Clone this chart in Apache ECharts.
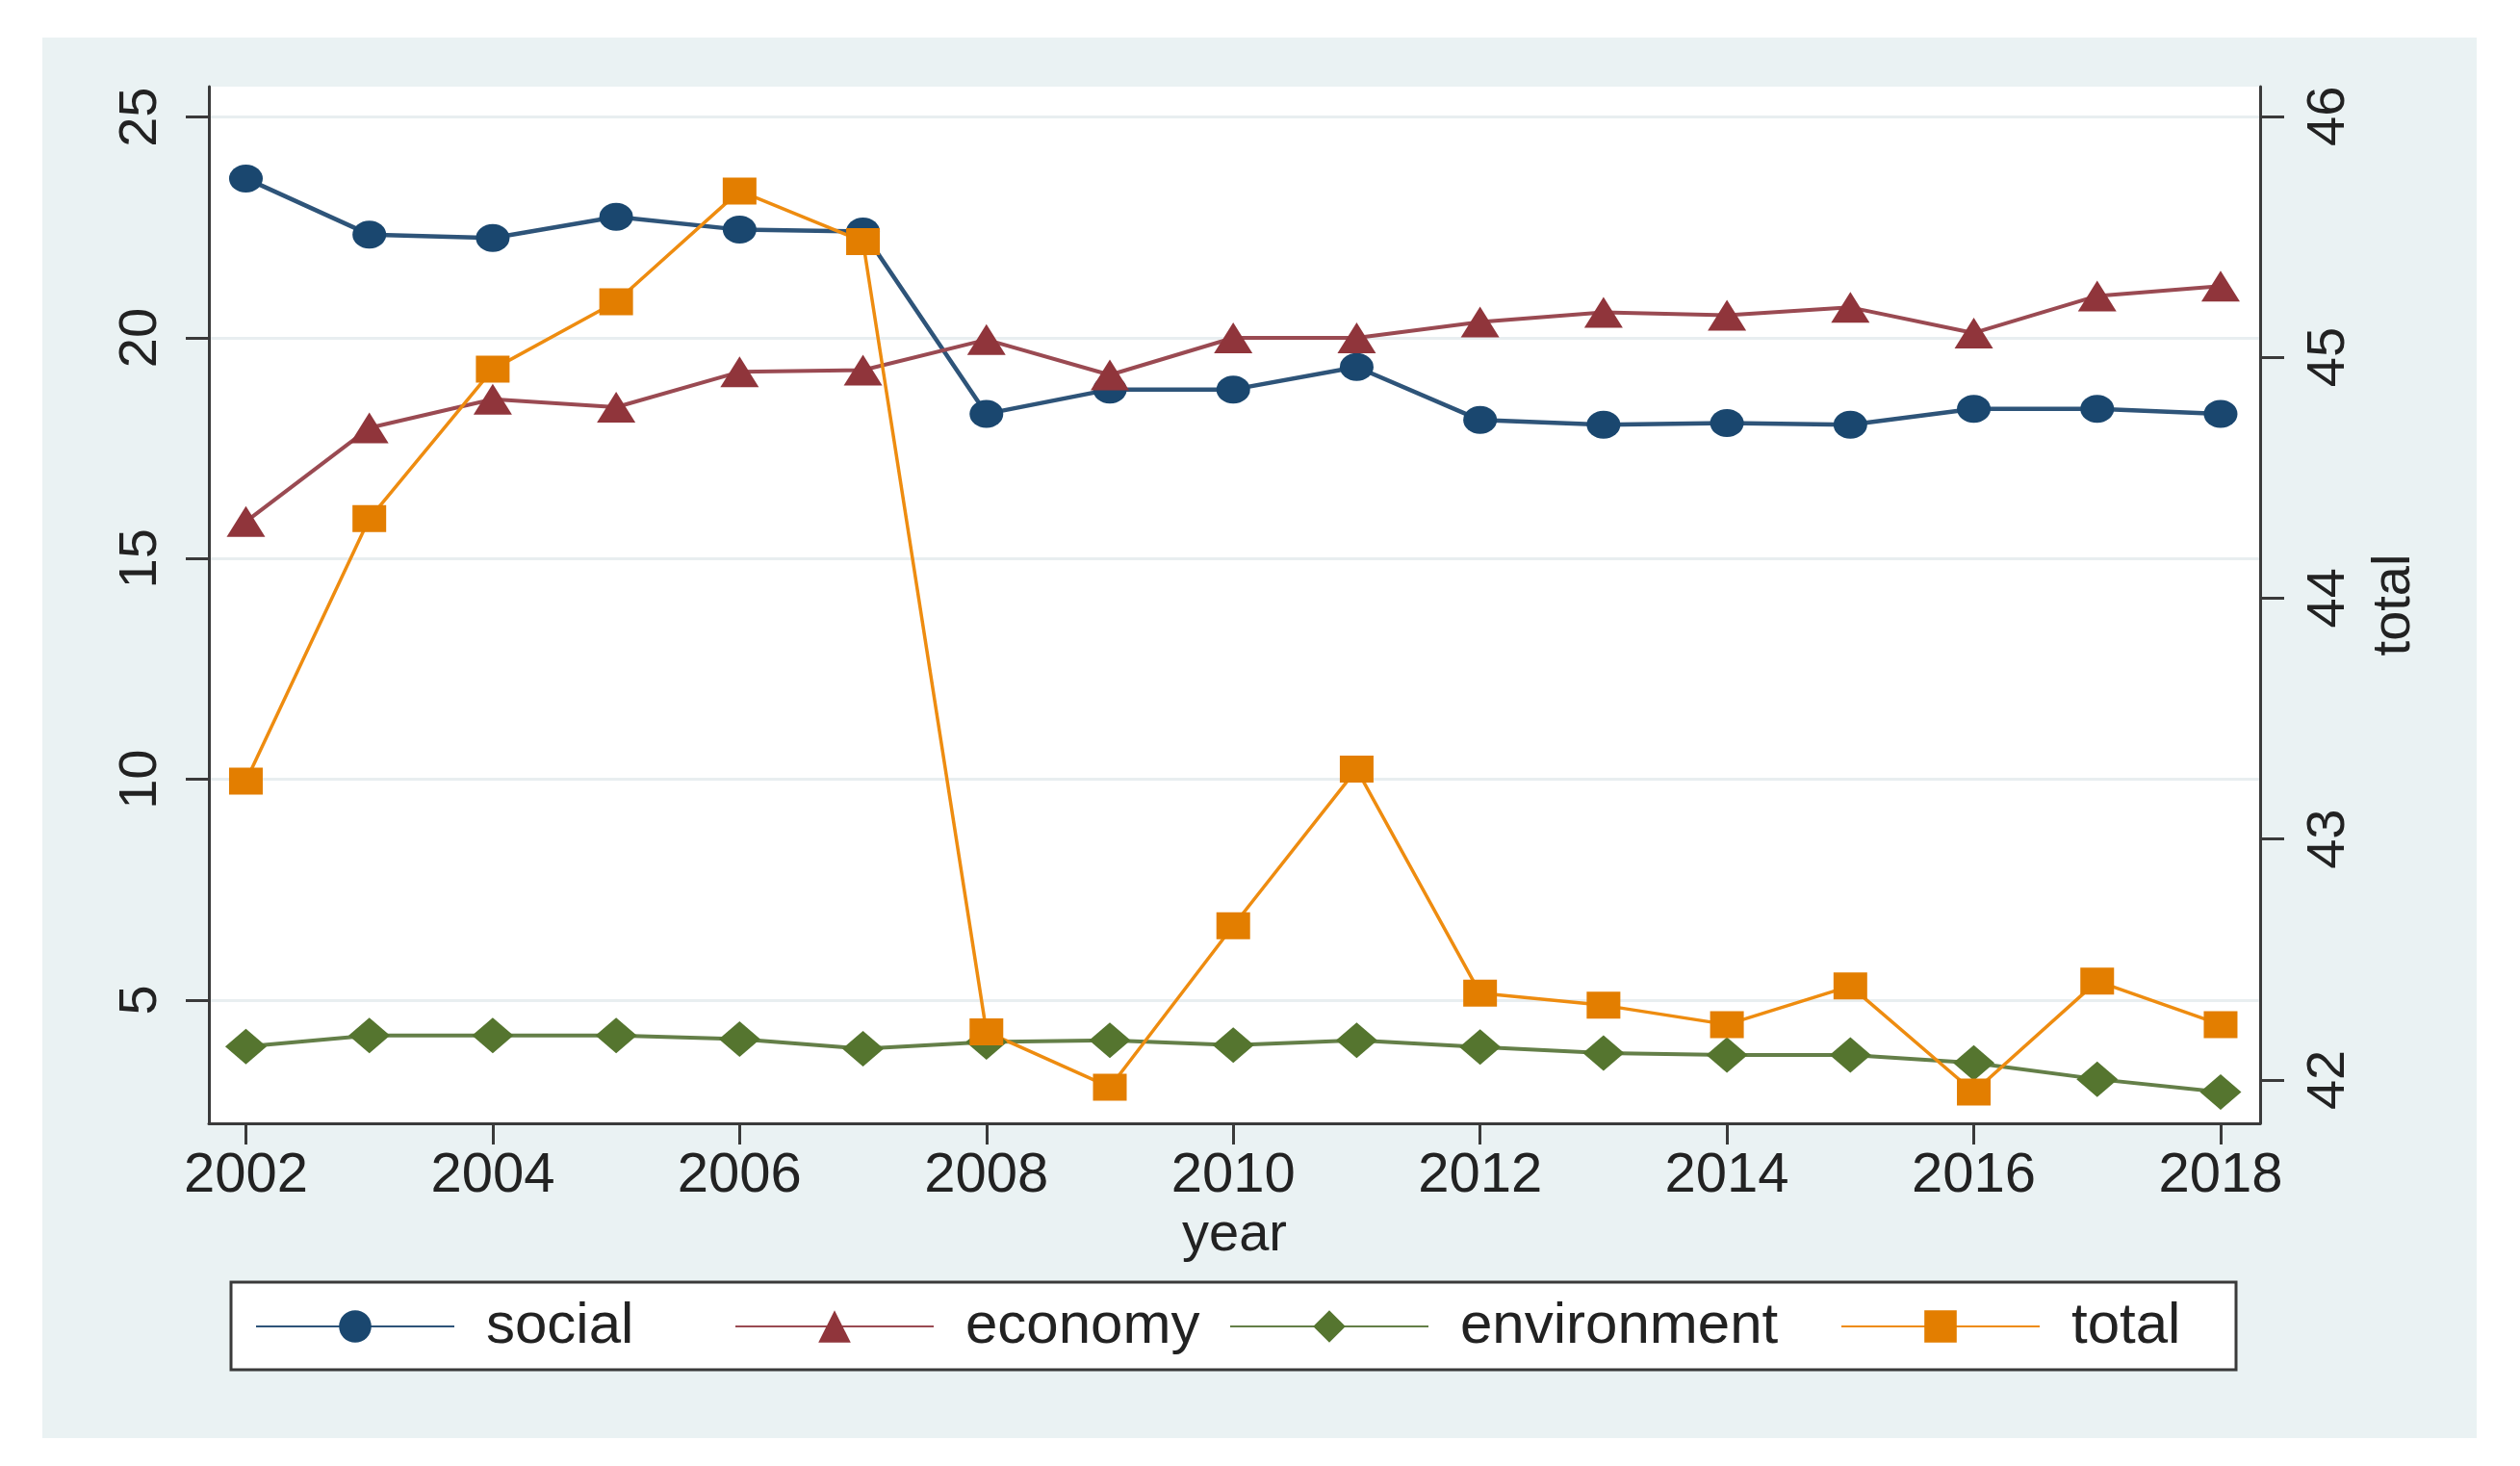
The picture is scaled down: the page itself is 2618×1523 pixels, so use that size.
<!DOCTYPE html>
<html>
<head>
<meta charset="utf-8">
<script src="https://cdn.jsdelivr.net/npm/echarts@6/dist/echarts.min.js"></script>
<style>
html,body{margin:0;padding:0;background:#fff;}
#chart{width:2618px;height:1523px;}
</style>
</head>
<body>
<div id="chart"></div>
<script>
var years = [2002,2003,2004,2005,2006,2007,2008,2009,2010,2011,2012,2013,2014,2015,2016,2017,2018];
var social = [23.61,22.34,22.26,22.74,22.45,22.41,18.28,18.83,18.83,19.34,18.14,18.03,18.07,18.03,18.39,18.39,18.28];
var economy = [15.84,17.96,18.61,18.43,19.23,19.27,19.96,19.16,20.0,20.0,20.36,20.58,20.51,20.69,20.11,20.95,21.17];
var environment = [3.95,4.20,4.20,4.20,4.12,3.90,4.05,4.09,3.98,4.09,3.94,3.80,3.76,3.76,3.58,3.21,2.92];
var total = [43.24,44.33,44.95,45.23,45.69,45.48,42.20,41.97,42.64,43.29,42.36,42.31,42.23,42.39,41.95,42.41,42.23];
var xTicks = [2002,2004,2006,2008,2010,2012,2014,2016,2018];
var leftTicks = [5,10,15,20,25];
var rightTicks = [42,43,44,45,46];

function pairs(vals){ return years.map(function(y,i){ return [y, vals[i]]; }); }

var FONT = '"Liberation Sans", Arial, Helvetica, sans-serif';
var AX = '#3a3a3a';
var chart = echarts.init(document.getElementById('chart'), null, {renderer:'canvas'});

function legendAt(name, left){
  return {
    data:[name], left:left, top:1348, padding:0,
    itemWidth:206, itemHeight:42, selectedMode:false,
    textStyle:{fontSize:60, color:'#222', fontFamily:FONT, padding:[0,0,0,28]}
  };
}

chart.setOption({
  backgroundColor:'#eaf2f3',
  animation:false,
  textStyle:{fontFamily:FONT},
  grid:{left:217, right:270, top:90, bottom:356, show:true, backgroundColor:'#ffffff', borderWidth:0},
  graphic:{elements:[
    {type:'rect', shape:{x:0,y:0,width:2618,height:39}, style:{fill:'#fff'}, silent:true},
    {type:'rect', shape:{x:0,y:1494,width:2618,height:29}, style:{fill:'#fff'}, silent:true},
    {type:'rect', shape:{x:0,y:0,width:44,height:1523}, style:{fill:'#fff'}, silent:true},
    {type:'rect', shape:{x:2573,y:0,width:45,height:1523}, style:{fill:'#fff'}, silent:true},
    {type:'rect', shape:{x:240,y:1332,width:2083,height:91}, style:{fill:'#fff', stroke:AX, lineWidth:3}, silent:true}
  ]},
  legend:[
    legendAt('social',265),
    legendAt('economy',763),
    legendAt('environment',1277),
    legendAt('total',1912)
  ],
  xAxis:{
    type:'value', min:2001.70, max:2018.32,
    name:'year', nameLocation:'middle', nameGap:86,
    nameTextStyle:{fontSize:56, color:'#222', fontFamily:FONT},
    axisLine:{show:true, lineStyle:{color:AX, width:3}},
    axisTick:{show:true, length:22, lineStyle:{color:AX, width:3}, customValues:xTicks},
    axisLabel:{fontSize:58, color:'#222', margin:26, fontFamily:FONT, customValues:xTicks, formatter:function(v){return String(v);}},
    splitLine:{show:false}
  },
  yAxis:[
    {
      type:'value', position:'left', min:2.21, max:25.69,
      axisLine:{show:true, lineStyle:{color:AX, width:3}},
      axisTick:{show:true, length:24, lineStyle:{color:AX, width:3}, customValues:leftTicks},
      axisLabel:{fontSize:56, color:'#222', rotate:90, margin:42, fontFamily:FONT, customValues:leftTicks},
      splitLine:{show:true, lineStyle:{color:'#e8eef0', width:3}}
    },
    {
      type:'value', position:'right', min:41.82, max:46.123,
      name:'total', nameLocation:'middle', nameGap:112,
      nameTextStyle:{fontSize:56, color:'#222', fontFamily:FONT},
      axisLine:{show:true, lineStyle:{color:AX, width:3}},
      axisTick:{show:true, length:25, lineStyle:{color:AX, width:3}, customValues:rightTicks},
      axisLabel:{fontSize:56, color:'#222', rotate:90, margin:44, fontFamily:FONT, customValues:rightTicks},
      splitLine:{show:false}
    }
  ],
  series:[
    {name:'social', type:'line', yAxisIndex:0, data:pairs(social), symbol:'circle', symbolSize:[35,29],
     itemStyle:{color:'#1a476f'}, lineStyle:{color:'#2e5479', width:4.5}},
    {name:'economy', type:'line', yAxisIndex:0, data:pairs(economy), symbol:'triangle', symbolSize:[40,32],
     itemStyle:{color:'#90353b'}, lineStyle:{color:'#9a4a52', width:4}},
    {name:'environment', type:'line', yAxisIndex:0, data:pairs(environment), symbol:'diamond', symbolSize:[43,37],
     itemStyle:{color:'#55752f'}, lineStyle:{color:'#647f48', width:4}},
    {name:'total', type:'line', yAxisIndex:1, data:pairs(total), symbol:'rect', symbolSize:[35,28],
     itemStyle:{color:'#e37e00'}, lineStyle:{color:'#ee8c10', width:3.5}}
  ]
});
</script>
</body>
</html>
